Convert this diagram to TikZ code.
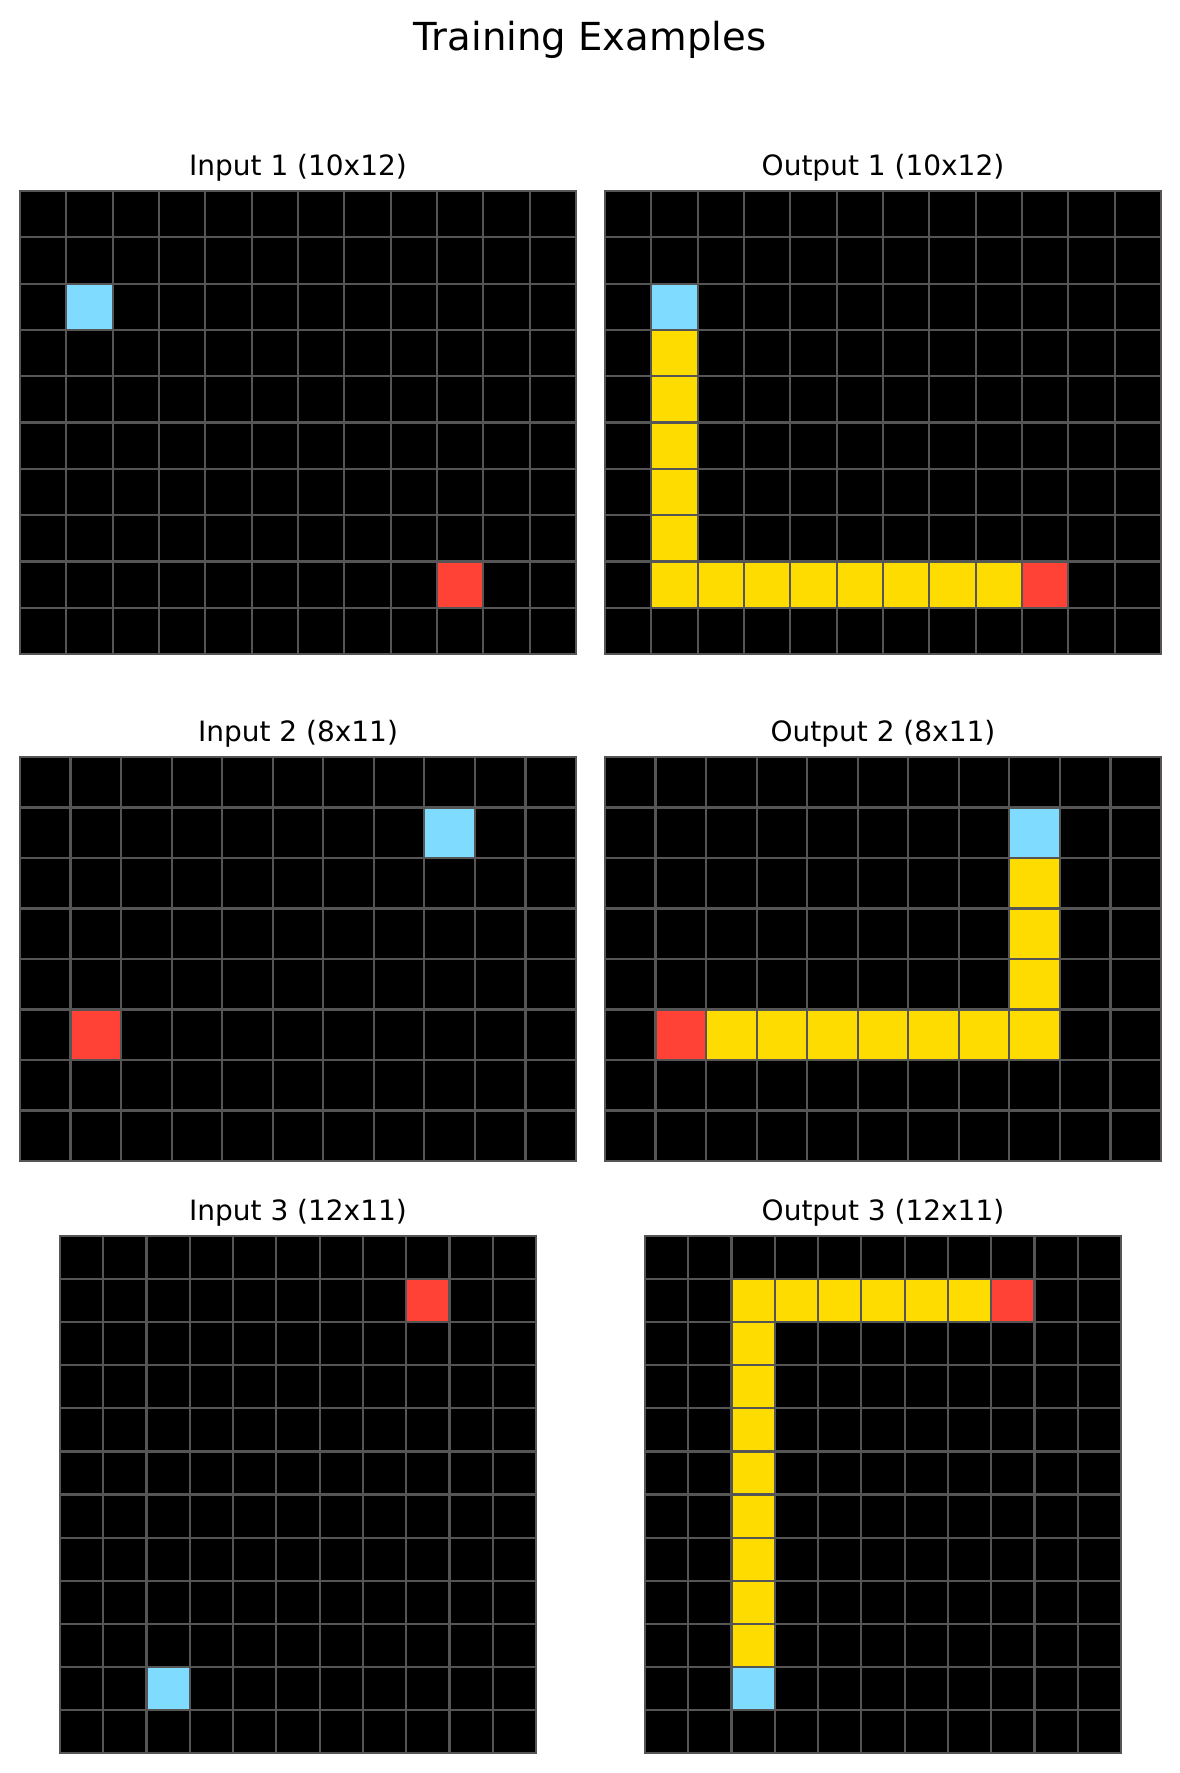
\documentclass[tikz,border=0pt]{standalone}
\usepackage{fontspec}
\setmainfont{DejaVu Sans}
\definecolor{cblue}{HTML}{7FDBFF}
\definecolor{cred}{HTML}{FF4136}
\definecolor{cyel}{HTML}{FFDC00}
\definecolor{cline}{HTML}{555555}
\tikzset{
  gridline/.style={draw=cline, line width=2.2pt},
  subtitle/.style={anchor=base, font=\fontsize{28}{31}\selectfont, inner sep=0pt},
  maintitle/.style={anchor=base, font=\fontsize{38.6}{42}\selectfont, inner sep=0pt},
}
% x0, y0, width, height, cols, rows, cells
\newcommand\arcgrid[7]{%
  \pgfmathsetmacro\cw{#3/#5}\pgfmathsetmacro\ch{#4/#6}%
  \fill[black] (#1,#2) rectangle ++(#3,#4);
  \foreach \r/\c/\k in {#7} {\fill[\k] ({#1+\c*\cw},{#2+\r*\ch}) rectangle ++(\cw,\ch);}
  \foreach \i in {1,...,#5} {\draw[gridline] ({#1+\i*\cw},#2) -- ++(0,#4);}
  \foreach \j in {1,...,#6} {\draw[gridline] (#1,{#2+\j*\ch}) -- ++(#3,0);}
  \draw[gridline] (#1,#2) rectangle ++(#3,#4);
}
\begin{document}
\begin{tikzpicture}[x=1pt,y=-1pt]
\useasboundingbox (0,0) rectangle (1180,1773);
\node[maintitle] (title) at (590,50) {Training Examples};

\node[subtitle] (t1i) at (298,175) {Input 1 (10x12)};
\node[subtitle] (t1o) at (883,175) {Output 1 (10x12)};
\arcgrid{20}{191}{556}{463}{12}{10}{2/1/cblue,8/9/cred}
\arcgrid{605}{191}{556}{463}{12}{10}{2/1/cblue,3/1/cyel,4/1/cyel,5/1/cyel,6/1/cyel,7/1/cyel,8/1/cyel,8/2/cyel,8/3/cyel,8/4/cyel,8/5/cyel,8/6/cyel,8/7/cyel,8/8/cyel,8/9/cred}

\node[subtitle] (t2i) at (298,741) {Input 2 (8x11)};
\node[subtitle] (t2o) at (883,741) {Output 2 (8x11)};
\arcgrid{20}{757}{556}{404}{11}{8}{1/8/cblue,5/1/cred}
\arcgrid{605}{757}{556}{404}{11}{8}{1/8/cblue,2/8/cyel,3/8/cyel,4/8/cyel,5/8/cyel,5/2/cyel,5/3/cyel,5/4/cyel,5/5/cyel,5/6/cyel,5/7/cyel,5/1/cred}

\node[subtitle] (t3i) at (298,1220) {Input 3 (12x11)};
\node[subtitle] (t3o) at (883,1220) {Output 3 (12x11)};
\arcgrid{60}{1236}{476}{517}{11}{12}{1/8/cred,10/2/cblue}
\arcgrid{645}{1236}{476}{517}{11}{12}{1/8/cred,1/2/cyel,1/3/cyel,1/4/cyel,1/5/cyel,1/6/cyel,1/7/cyel,2/2/cyel,3/2/cyel,4/2/cyel,5/2/cyel,6/2/cyel,7/2/cyel,8/2/cyel,9/2/cyel,10/2/cblue}
\end{tikzpicture}
\end{document}
